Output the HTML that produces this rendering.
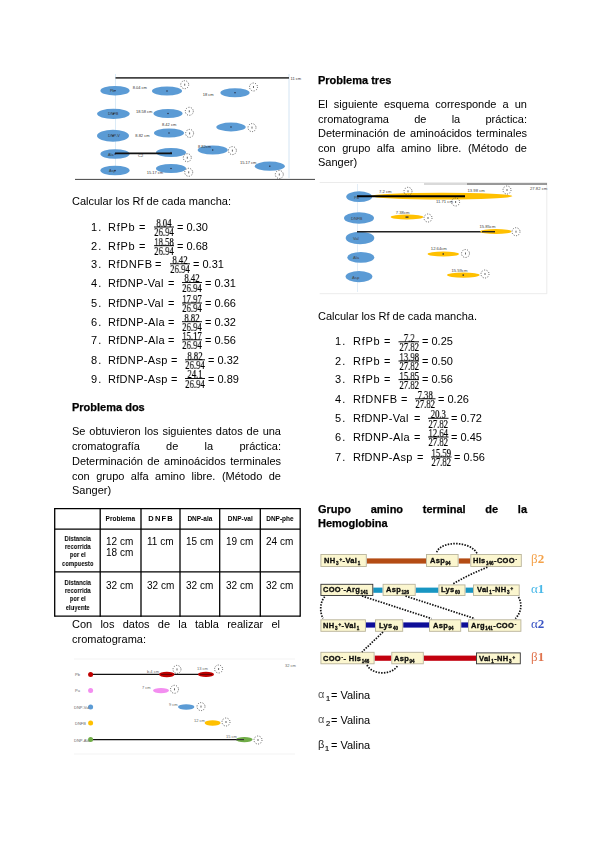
<!DOCTYPE html>
<html><head><meta charset="utf-8"><style>
html,body{margin:0;padding:0;background:#fff;}
body{width:600px;height:848px;position:relative;overflow:hidden;font-family:"Liberation Sans",sans-serif;color:#000;}
.t{position:absolute;white-space:nowrap;font-family:"Liberation Sans",sans-serif;will-change:transform;}
.j{text-align:justify;text-align-last:justify;white-space:normal;}
.fr{position:absolute;font-family:"Liberation Serif",serif;font-size:11.5px;line-height:11.5px;text-align:center;transform:scaleX(0.75);letter-spacing:0px;-webkit-text-stroke:0.2px #000;will-change:transform;}
.th{font-size:6.5px;line-height:8px;font-weight:bold;text-align:center;}
.rh{font-size:7.4px;line-height:8px;font-weight:bold;text-align:center;transform:scaleX(0.8);}
.hb{font-weight:bold;color:#111;letter-spacing:0.3px;-webkit-text-stroke:0.3px #000;}
.hb sub{font-size:4.5px;vertical-align:-1.5px;letter-spacing:0;margin:0 0.5px;}
.hb sup{font-size:4.5px;vertical-align:2.5px;letter-spacing:0;margin:0 0.5px;}
.gl{font-family:"Liberation Serif",serif;font-size:13px;line-height:13px;}
sub{font-size:7px;vertical-align:-2px;line-height:0;}
sup{font-size:7px;vertical-align:3px;line-height:0;}
svg{position:absolute;left:0;top:0;}
.gk{font-family:"Liberation Sans",sans-serif;font-size:11px;line-height:11px;color:#555;}
.sb{font-size:7.5px;line-height:7.5px;color:#111;-webkit-text-stroke:0.2px #111;}
</style></head><body>
<svg width="600" height="848" viewBox="0 0 600 848">
<line x1="154" y1="227.0" x2="174" y2="227.0" stroke="#111" stroke-width="1"/>
<line x1="154" y1="245.7" x2="174" y2="245.7" stroke="#111" stroke-width="1"/>
<line x1="170" y1="263.8" x2="190" y2="263.8" stroke="#111" stroke-width="1"/>
<line x1="182" y1="282.5" x2="202" y2="282.5" stroke="#111" stroke-width="1"/>
<line x1="182" y1="303.0" x2="202" y2="303.0" stroke="#111" stroke-width="1"/>
<line x1="182" y1="321.7" x2="202" y2="321.7" stroke="#111" stroke-width="1"/>
<line x1="182" y1="339.8" x2="202" y2="339.8" stroke="#111" stroke-width="1"/>
<line x1="185" y1="359.8" x2="205" y2="359.8" stroke="#111" stroke-width="1"/>
<line x1="185" y1="378.5" x2="205" y2="378.5" stroke="#111" stroke-width="1"/>
<line x1="54.7" y1="508.1" x2="54.7" y2="616.7" stroke="#000" stroke-width="1.3"/>
<line x1="100.2" y1="508.1" x2="100.2" y2="616.7" stroke="#000" stroke-width="1.3"/>
<line x1="141" y1="508.1" x2="141" y2="616.7" stroke="#000" stroke-width="1.3"/>
<line x1="180" y1="508.1" x2="180" y2="616.7" stroke="#000" stroke-width="1.3"/>
<line x1="219.7" y1="508.1" x2="219.7" y2="616.7" stroke="#000" stroke-width="1.3"/>
<line x1="260.3" y1="508.1" x2="260.3" y2="616.7" stroke="#000" stroke-width="1.3"/>
<line x1="300.2" y1="508.1" x2="300.2" y2="616.7" stroke="#000" stroke-width="1.3"/>
<line x1="54.7" y1="508.6" x2="300.2" y2="508.6" stroke="#000" stroke-width="1.3"/>
<line x1="54.7" y1="529.2" x2="300.2" y2="529.2" stroke="#000" stroke-width="1.3"/>
<line x1="54.7" y1="571.9" x2="300.2" y2="571.9" stroke="#000" stroke-width="1.3"/>
<line x1="54.7" y1="616.2" x2="300.2" y2="616.2" stroke="#000" stroke-width="1.3"/>
<line x1="398.5" y1="341.8" x2="419.0" y2="341.8" stroke="#111" stroke-width="1"/>
<line x1="398.5" y1="361.0" x2="419.0" y2="361.0" stroke="#111" stroke-width="1"/>
<line x1="398.5" y1="379.6" x2="419.0" y2="379.6" stroke="#111" stroke-width="1"/>
<line x1="415" y1="398.8" x2="435.5" y2="398.8" stroke="#111" stroke-width="1"/>
<line x1="428" y1="418.3" x2="448.5" y2="418.3" stroke="#111" stroke-width="1"/>
<line x1="428" y1="437.0" x2="448.5" y2="437.0" stroke="#111" stroke-width="1"/>
<line x1="431" y1="457.0" x2="451.5" y2="457.0" stroke="#111" stroke-width="1"/>
<line x1="115.5" y1="74" x2="115.5" y2="175" stroke="#d2e6f5" stroke-width="0.8"/>
<line x1="289" y1="74" x2="289" y2="178" stroke="#c8ddf0" stroke-width="0.8"/>
<line x1="115.5" y1="77.9" x2="289" y2="77.9" stroke="#444" stroke-width="1.7"/>
<line x1="75" y1="179.4" x2="315" y2="179.4" stroke="#444" stroke-width="1"/>
<ellipse cx="115" cy="90.7" rx="14.6" ry="4.8" fill="#5b9bd5" opacity="1"/>
<ellipse cx="113.4" cy="113.8" rx="16.3" ry="5.1" fill="#5b9bd5" opacity="1"/>
<ellipse cx="113" cy="135.7" rx="16" ry="6" fill="#5b9bd5" opacity="1"/>
<ellipse cx="115" cy="154" rx="14.6" ry="4.8" fill="#5b9bd5" opacity="1"/>
<ellipse cx="115" cy="170.5" rx="14.6" ry="4.8" fill="#5b9bd5" opacity="1"/>
<ellipse cx="167" cy="91" rx="15" ry="4.5" fill="#5b9bd5" opacity="1"/>
<ellipse cx="168" cy="113.5" rx="14.5" ry="4.5" fill="#5b9bd5" opacity="1"/>
<ellipse cx="169" cy="133" rx="15" ry="4.5" fill="#5b9bd5" opacity="1"/>
<ellipse cx="171" cy="152.5" rx="15" ry="4.5" fill="#5b9bd5" opacity="1"/>
<ellipse cx="171" cy="168.5" rx="15" ry="4.5" fill="#5b9bd5" opacity="1"/>
<ellipse cx="235" cy="92.7" rx="14.6" ry="4.5" fill="#5b9bd5" opacity="1"/>
<ellipse cx="231" cy="127" rx="14.7" ry="4.4" fill="#5b9bd5" opacity="1"/>
<ellipse cx="212.7" cy="150" rx="15" ry="4.5" fill="#5b9bd5" opacity="1"/>
<ellipse cx="269.8" cy="166.2" rx="15" ry="4.6" fill="#5b9bd5" opacity="1"/>
<circle cx="184.7" cy="84.7" r="4" fill="none" stroke="#333" stroke-width="0.8" stroke-dasharray="1 1.5"/>
<rect x="184.2" y="83.7" width="1" height="2" fill="#666"/>
<circle cx="189.3" cy="111.3" r="4" fill="none" stroke="#333" stroke-width="0.8" stroke-dasharray="1 1.5"/>
<rect x="188.8" y="110.3" width="1" height="2" fill="#666"/>
<circle cx="189.6" cy="133.4" r="4" fill="none" stroke="#333" stroke-width="0.8" stroke-dasharray="1 1.5"/>
<rect x="189.1" y="132.4" width="1" height="2" fill="#666"/>
<circle cx="187.3" cy="157.7" r="4" fill="none" stroke="#333" stroke-width="0.8" stroke-dasharray="1 1.5"/>
<rect x="186.8" y="156.7" width="1" height="2" fill="#666"/>
<circle cx="188.7" cy="172.3" r="4" fill="none" stroke="#333" stroke-width="0.8" stroke-dasharray="1 1.5"/>
<rect x="188.2" y="171.3" width="1" height="2" fill="#666"/>
<circle cx="253.5" cy="87" r="4" fill="none" stroke="#333" stroke-width="0.8" stroke-dasharray="1 1.5"/>
<rect x="253.0" y="86" width="1" height="2" fill="#666"/>
<circle cx="252" cy="127.6" r="4" fill="none" stroke="#333" stroke-width="0.8" stroke-dasharray="1 1.5"/>
<rect x="251.5" y="126.6" width="1" height="2" fill="#666"/>
<circle cx="232.4" cy="150.6" r="4" fill="none" stroke="#333" stroke-width="0.8" stroke-dasharray="1 1.5"/>
<rect x="231.9" y="149.6" width="1" height="2" fill="#666"/>
<circle cx="279.3" cy="174.5" r="4" fill="none" stroke="#333" stroke-width="0.8" stroke-dasharray="1 1.5"/>
<rect x="278.8" y="173.5" width="1" height="2" fill="#666"/>
<line x1="115" y1="153.3" x2="172" y2="153.3" stroke="#111" stroke-width="1.8"/>
<text x="132.7" y="89" font-family="Liberation Sans" font-size="4" font-weight="normal" fill="#333">8.04 cm</text>
<text x="136" y="112.5" font-family="Liberation Sans" font-size="4" font-weight="normal" fill="#333">18.58 cm</text>
<text x="162" y="125.5" font-family="Liberation Sans" font-size="4" font-weight="normal" fill="#333">8.42 cm</text>
<text x="135.3" y="137" font-family="Liberation Sans" font-size="4" font-weight="normal" fill="#333">8.82 cm</text>
<text x="138" y="157" font-family="Liberation Sans" font-size="4" font-weight="normal" fill="#333">C2</text>
<text x="146.7" y="174" font-family="Liberation Sans" font-size="4" font-weight="normal" fill="#333">15.17 cm</text>
<text x="290.5" y="80" font-family="Liberation Sans" font-size="4" font-weight="normal" fill="#333">11 cm</text>
<text x="202.7" y="96" font-family="Liberation Sans" font-size="4" font-weight="normal" fill="#333">18 cm</text>
<text x="198" y="148" font-family="Liberation Sans" font-size="4" font-weight="normal" fill="#333">8.82cm</text>
<text x="240" y="164" font-family="Liberation Sans" font-size="4" font-weight="normal" fill="#333">15.17 cm</text>
<text x="110" y="92" font-family="Liberation Sans" font-size="3.8" font-weight="normal" fill="#333">Pb</text>
<text x="108" y="115" font-family="Liberation Sans" font-size="3.8" font-weight="normal" fill="#333">DNFB</text>
<text x="108" y="137" font-family="Liberation Sans" font-size="3.8" font-weight="normal" fill="#333">DNP-V</text>
<text x="108" y="155.5" font-family="Liberation Sans" font-size="3.8" font-weight="normal" fill="#333">Ala</text>
<text x="109" y="172" font-family="Liberation Sans" font-size="3.8" font-weight="normal" fill="#333">Asp</text>
<rect x="114.4" y="90.10000000000001" width="1.2" height="1.2" fill="#223"/>
<rect x="112.80000000000001" y="113.2" width="1.2" height="1.2" fill="#223"/>
<rect x="112.4" y="135.1" width="1.2" height="1.2" fill="#223"/>
<rect x="114.4" y="153.4" width="1.2" height="1.2" fill="#223"/>
<rect x="114.4" y="169.9" width="1.2" height="1.2" fill="#223"/>
<rect x="166.4" y="90.4" width="1.2" height="1.2" fill="#223"/>
<rect x="167.4" y="112.9" width="1.2" height="1.2" fill="#223"/>
<rect x="168.4" y="132.4" width="1.2" height="1.2" fill="#223"/>
<rect x="170.4" y="151.9" width="1.2" height="1.2" fill="#223"/>
<rect x="170.4" y="167.9" width="1.2" height="1.2" fill="#223"/>
<rect x="234.4" y="92.10000000000001" width="1.2" height="1.2" fill="#223"/>
<rect x="230.4" y="126.4" width="1.2" height="1.2" fill="#223"/>
<rect x="212.1" y="149.4" width="1.2" height="1.2" fill="#223"/>
<rect x="269.2" y="165.6" width="1.2" height="1.2" fill="#223"/>
<path d="M319.7 182.5 H546.8 V293.7 H319.7" fill="none" stroke="#e6e6e6" stroke-width="0.8"/>
<line x1="357.5" y1="184" x2="357.5" y2="292" stroke="#dbe8f5" stroke-width="0.8"/>
<line x1="424" y1="184" x2="467" y2="184" stroke="#aaa" stroke-width="0.9"/>
<line x1="467" y1="184" x2="547" y2="184" stroke="#333" stroke-width="1"/>
<ellipse cx="359.2" cy="196.7" rx="13" ry="5.4" fill="#5b9bd5" opacity="1"/>
<ellipse cx="359" cy="218" rx="15" ry="5.7" fill="#5b9bd5" opacity="1"/>
<ellipse cx="360" cy="238" rx="14.3" ry="6.2" fill="#5b9bd5" opacity="1"/>
<ellipse cx="360.8" cy="257.4" rx="13.5" ry="5.4" fill="#5b9bd5" opacity="1"/>
<ellipse cx="359" cy="276.6" rx="13.4" ry="5.6" fill="#5b9bd5" opacity="1"/>
<ellipse cx="442" cy="196.1" rx="70.5" ry="3.4" fill="#ffc000" opacity="1"/>
<line x1="357" y1="196.3" x2="465" y2="196.3" stroke="#000" stroke-width="1.9"/>
<ellipse cx="407" cy="217.1" rx="16.3" ry="2.5" fill="#ffc000" opacity="1"/>
<rect x="405.5" y="216.4" width="3" height="1.4" fill="#333"/>
<line x1="357" y1="231.7" x2="495" y2="231.7" stroke="#222" stroke-width="1.4"/>
<ellipse cx="495.9" cy="231.5" rx="15.6" ry="2.6" fill="#ffc000" opacity="1"/>
<line x1="482" y1="231.7" x2="495" y2="231.7" stroke="#222" stroke-width="1.4"/>
<ellipse cx="443.3" cy="254" rx="15.7" ry="2.6" fill="#ffc000" opacity="1"/>
<ellipse cx="463.3" cy="275.1" rx="16.3" ry="2.6" fill="#ffc000" opacity="1"/>
<rect x="442.5" y="253.3" width="1.5" height="1.4" fill="#333"/>
<rect x="462.5" y="274.4" width="1.5" height="1.4" fill="#333"/>
<circle cx="507" cy="190" r="4" fill="none" stroke="#333" stroke-width="0.8" stroke-dasharray="1 1.5"/>
<rect x="506.5" y="189" width="1" height="2" fill="#666"/>
<circle cx="455.6" cy="202" r="4" fill="none" stroke="#333" stroke-width="0.8" stroke-dasharray="1 1.5"/>
<rect x="455.1" y="201" width="1" height="2" fill="#666"/>
<circle cx="428" cy="218" r="4" fill="none" stroke="#333" stroke-width="0.8" stroke-dasharray="1 1.5"/>
<rect x="427.5" y="217" width="1" height="2" fill="#666"/>
<circle cx="516" cy="231.7" r="4" fill="none" stroke="#333" stroke-width="0.8" stroke-dasharray="1 1.5"/>
<rect x="515.5" y="230.7" width="1" height="2" fill="#666"/>
<circle cx="465.5" cy="253.5" r="4" fill="none" stroke="#333" stroke-width="0.8" stroke-dasharray="1 1.5"/>
<rect x="465.0" y="252.5" width="1" height="2" fill="#666"/>
<circle cx="485" cy="274" r="4" fill="none" stroke="#333" stroke-width="0.8" stroke-dasharray="1 1.5"/>
<rect x="484.5" y="273" width="1" height="2" fill="#666"/>
<circle cx="408" cy="191.3" r="4" fill="none" stroke="#333" stroke-width="0.8" stroke-dasharray="1 1.5"/>
<rect x="407.5" y="190.3" width="1" height="2" fill="#666"/>
<text x="379" y="192.5" font-family="Liberation Sans" font-size="4.2" font-weight="normal" fill="#444">7.2 cm</text>
<text x="467.5" y="191.5" font-family="Liberation Sans" font-size="4.2" font-weight="normal" fill="#444">13.98 cm</text>
<text x="436" y="202.5" font-family="Liberation Sans" font-size="4.2" font-weight="normal" fill="#444">11.71 cm</text>
<text x="530" y="189.5" font-family="Liberation Sans" font-size="4.2" font-weight="normal" fill="#444">27.82 cm</text>
<text x="395.8" y="213.5" font-family="Liberation Sans" font-size="4.2" font-weight="normal" fill="#444">7.38cm</text>
<text x="479.4" y="227.5" font-family="Liberation Sans" font-size="4.2" font-weight="normal" fill="#444">15.85cm</text>
<text x="430.8" y="249.5" font-family="Liberation Sans" font-size="4.2" font-weight="normal" fill="#444">12.64cm</text>
<text x="451.4" y="271.5" font-family="Liberation Sans" font-size="4.2" font-weight="normal" fill="#444">15.59cm</text>
<text x="354" y="198.5" font-family="Liberation Sans" font-size="4.2" font-weight="normal" fill="#444">Pb</text>
<text x="351" y="219.5" font-family="Liberation Sans" font-size="4.2" font-weight="normal" fill="#444">DNFB</text>
<text x="353" y="239.5" font-family="Liberation Sans" font-size="4.2" font-weight="normal" fill="#444">Val</text>
<text x="353" y="259" font-family="Liberation Sans" font-size="4.2" font-weight="normal" fill="#444">Ala</text>
<text x="352" y="278.5" font-family="Liberation Sans" font-size="4.2" font-weight="normal" fill="#444">Asp</text>
<line x1="74" y1="659" x2="295" y2="659" stroke="#f0f0f0" stroke-width="0.8"/>
<line x1="74" y1="754" x2="295" y2="754" stroke="#f0f0f0" stroke-width="0.8"/>
<line x1="90.4" y1="674.4" x2="206" y2="674.4" stroke="#111" stroke-width="1.3"/>
<line x1="90.8" y1="739.6" x2="244" y2="739.6" stroke="#111" stroke-width="1.3"/>
<circle cx="90.6" cy="674.4" r="2.5" fill="#c00000"/>
<circle cx="90.6" cy="690.6" r="2.5" fill="#f38ef0"/>
<circle cx="90.6" cy="707" r="2.5" fill="#5b9bd5"/>
<circle cx="90.6" cy="723" r="2.5" fill="#ffc000"/>
<circle cx="90.6" cy="739.6" r="2.5" fill="#70ad47"/>
<ellipse cx="166.8" cy="674.5" rx="7.8" ry="2.7" fill="#c00000" opacity="1"/>
<ellipse cx="206" cy="674.4" rx="8" ry="2.7" fill="#c00000" opacity="1"/>
<ellipse cx="161" cy="690.6" rx="8" ry="2.7" fill="#f38ef0" opacity="1"/>
<ellipse cx="186.2" cy="707" rx="8.2" ry="2.7" fill="#5b9bd5" opacity="1"/>
<ellipse cx="212.6" cy="723" rx="8" ry="2.7" fill="#ffc000" opacity="1"/>
<ellipse cx="244.3" cy="739.6" rx="8.3" ry="2.7" fill="#70ad47" opacity="1"/>
<line x1="161" y1="674.4" x2="172" y2="674.4" stroke="#600" stroke-width="1"/>
<line x1="200" y1="674.4" x2="212" y2="674.4" stroke="#600" stroke-width="1"/>
<line x1="236" y1="739.6" x2="244" y2="739.6" stroke="#333" stroke-width="1.2"/>
<circle cx="177" cy="669.4" r="4" fill="none" stroke="#333" stroke-width="0.8" stroke-dasharray="1 1.5"/>
<rect x="176.5" y="668.4" width="1" height="2" fill="#666"/>
<circle cx="218.6" cy="669" r="4" fill="none" stroke="#333" stroke-width="0.8" stroke-dasharray="1 1.5"/>
<rect x="218.1" y="668" width="1" height="2" fill="#666"/>
<circle cx="174.5" cy="689.3" r="4" fill="none" stroke="#333" stroke-width="0.8" stroke-dasharray="1 1.5"/>
<rect x="174.0" y="688.3" width="1" height="2" fill="#666"/>
<circle cx="201" cy="706.6" r="4" fill="none" stroke="#333" stroke-width="0.8" stroke-dasharray="1 1.5"/>
<rect x="200.5" y="705.6" width="1" height="2" fill="#666"/>
<circle cx="226" cy="722" r="4" fill="none" stroke="#333" stroke-width="0.8" stroke-dasharray="1 1.5"/>
<rect x="225.5" y="721" width="1" height="2" fill="#666"/>
<circle cx="258" cy="740" r="4" fill="none" stroke="#333" stroke-width="0.8" stroke-dasharray="1 1.5"/>
<rect x="257.5" y="739" width="1" height="2" fill="#666"/>
<text x="147" y="673" font-family="Liberation Sans" font-size="4" font-weight="normal" fill="#666">b.4 cm</text>
<text x="197" y="670" font-family="Liberation Sans" font-size="4" font-weight="normal" fill="#666">13 cm</text>
<text x="142" y="689" font-family="Liberation Sans" font-size="4" font-weight="normal" fill="#666">7 cm</text>
<text x="169" y="705.5" font-family="Liberation Sans" font-size="4" font-weight="normal" fill="#666">9 cm</text>
<text x="194" y="722" font-family="Liberation Sans" font-size="4" font-weight="normal" fill="#666">12 cm</text>
<text x="226" y="738" font-family="Liberation Sans" font-size="4" font-weight="normal" fill="#666">15 cm</text>
<text x="285" y="667" font-family="Liberation Sans" font-size="4" font-weight="normal" fill="#666">32 cm</text>
<text x="75" y="676" font-family="Liberation Sans" font-size="4" font-weight="normal" fill="#666">Pb</text>
<text x="75" y="692" font-family="Liberation Sans" font-size="4" font-weight="normal" fill="#666">Pu</text>
<text x="74" y="709" font-family="Liberation Sans" font-size="4" font-weight="normal" fill="#666">DNP-Val</text>
<text x="75" y="725" font-family="Liberation Sans" font-size="4" font-weight="normal" fill="#666">DNFB</text>
<text x="74" y="741.5" font-family="Liberation Sans" font-size="4" font-weight="normal" fill="#666">DNP-Ala</text>
<rect x="366.8" y="558.4" width="59.19999999999999" height="5.2" fill="#b44c14"/>
<rect x="458.6" y="558.4" width="11.699999999999989" height="5.2" fill="#b44c14"/>
<rect x="320.9" y="554.5" width="45.400000000000034" height="12" fill="#fbf6cf" stroke="#b8b39a" stroke-width="0.9"/>
<rect x="426.5" y="554.5" width="31.600000000000023" height="12" fill="#fbf6cf" stroke="#b8b39a" stroke-width="0.9"/>
<rect x="470.8" y="554.5" width="50.49999999999994" height="12" fill="#fbf6cf" stroke="#b8b39a" stroke-width="0.9"/>
<rect x="373.3" y="587.6" width="9.300000000000011" height="5.2" fill="#1896c2"/>
<rect x="415.7" y="587.6" width="22.69999999999999" height="5.2" fill="#1896c2"/>
<rect x="465.5" y="587.6" width="7.5" height="5.2" fill="#1896c2"/>
<rect x="320.9" y="584.3" width="51.900000000000034" height="11.200000000000045" fill="#fbf6cf" stroke="#333" stroke-width="0.9"/>
<rect x="383.1" y="584.3" width="32.099999999999966" height="11.200000000000045" fill="#fbf6cf" stroke="#b8b39a" stroke-width="0.9"/>
<rect x="438.9" y="584.9" width="26.100000000000023" height="10.600000000000023" fill="#fbf6cf" stroke="#b8b39a" stroke-width="0.9"/>
<rect x="473.5" y="584.9" width="45.700000000000045" height="10.600000000000023" fill="#fbf6cf" stroke="#b8b39a" stroke-width="0.9"/>
<rect x="365.9" y="622.4" width="9.100000000000023" height="5.2" fill="#0e0e98"/>
<rect x="403.2" y="622.4" width="25.80000000000001" height="5.2" fill="#0e0e98"/>
<rect x="461.2" y="622.4" width="6.800000000000011" height="5.2" fill="#0e0e98"/>
<rect x="320.9" y="619.8" width="44.5" height="11.5" fill="#fbf6cf" stroke="#b8b39a" stroke-width="0.9"/>
<rect x="375.5" y="619.8" width="27.19999999999999" height="11.5" fill="#fbf6cf" stroke="#b8b39a" stroke-width="0.9"/>
<rect x="429.5" y="619.8" width="31.19999999999999" height="11.5" fill="#fbf6cf" stroke="#b8b39a" stroke-width="0.9"/>
<rect x="468.5" y="619.8" width="52.39999999999998" height="11.5" fill="#fbf6cf" stroke="#b8b39a" stroke-width="0.9"/>
<rect x="374.6" y="655.6" width="16.69999999999999" height="5.2" fill="#c2000e"/>
<rect x="423.8" y="655.6" width="52.19999999999999" height="5.2" fill="#c2000e"/>
<rect x="320.9" y="652.3" width="53.200000000000045" height="11.5" fill="#fbf6cf" stroke="#b8b39a" stroke-width="0.9"/>
<rect x="391.8" y="652.3" width="31.5" height="11.5" fill="#fbf6cf" stroke="#b8b39a" stroke-width="0.9"/>
<rect x="476.5" y="652.9" width="43.799999999999955" height="10.899999999999977" fill="#fbf6cf" stroke="#333" stroke-width="0.9"/>
<path d="M436.7 552.3 C 441 540.5, 471 540.5, 477.3 554" fill="none" stroke="#111" stroke-width="1.7" stroke-dasharray="1.5 1.3"/>
<path d="M453.3 583.7 Q 470 574, 488 567" fill="none" stroke="#111" stroke-width="1.7" stroke-dasharray="1.5 1.3"/>
<path d="M362 596 L 431.5 618.6" fill="none" stroke="#111" stroke-width="1.7" stroke-dasharray="1.5 1.3"/>
<path d="M405.5 596 L 474.8 618.6" fill="none" stroke="#111" stroke-width="1.7" stroke-dasharray="1.5 1.3"/>
<path d="M324.7 596.7 C 320 602, 319.5 612, 323 618.3" fill="none" stroke="#111" stroke-width="1.7" stroke-dasharray="1.5 1.3"/>
<path d="M518.5 597 C 522 603, 522 612, 515.3 618.6" fill="none" stroke="#111" stroke-width="1.7" stroke-dasharray="1.5 1.3"/>
<path d="M383 632 L 362 652" fill="none" stroke="#111" stroke-width="1.7" stroke-dasharray="1.5 1.3"/>
<path d="M367 665 C 372 675, 392 676, 398 665" fill="none" stroke="#111" stroke-width="1.7" stroke-dasharray="1.5 1.3"/>
</svg>
<div class="t" style="left:72px;top:196px;font-size:11px;line-height:11px;">Calcular los Rf de cada mancha:</div>
<div class="t" style="left:91px;top:222px;font-size:11px;line-height:11px;letter-spacing:1.2px;">1.</div>
<div class="t" style="left:108px;top:222px;font-size:11px;line-height:11px;letter-spacing:0.72px;">RfPb</div>
<div class="t" style="left:138.6px;top:222px;font-size:11px;line-height:11px;">=</div>
<div class="fr" style="left:151px;top:217.9px;width:26px;">8.04</div>
<div class="fr" style="left:151px;top:227.2px;width:26px;">26.94</div>
<div class="t" style="left:177px;top:222px;font-size:11px;line-height:11px;">= 0.30</div>
<div class="t" style="left:91px;top:241px;font-size:11px;line-height:11px;letter-spacing:1.2px;">2.</div>
<div class="t" style="left:108px;top:241px;font-size:11px;line-height:11px;letter-spacing:0.72px;">RfPb</div>
<div class="t" style="left:138.6px;top:241px;font-size:11px;line-height:11px;">=</div>
<div class="fr" style="left:151px;top:236.6px;width:26px;">18.58</div>
<div class="fr" style="left:151px;top:245.9px;width:26px;">26.94</div>
<div class="t" style="left:177px;top:241px;font-size:11px;line-height:11px;">= 0.68</div>
<div class="t" style="left:91px;top:259px;font-size:11px;line-height:11px;letter-spacing:1.2px;">3.</div>
<div class="t" style="left:108px;top:259px;font-size:11px;line-height:11px;letter-spacing:0.61px;">RfDNFB</div>
<div class="t" style="left:155.1px;top:259px;font-size:11px;line-height:11px;">=</div>
<div class="fr" style="left:167px;top:254.7px;width:26px;">8.42</div>
<div class="fr" style="left:167px;top:264.0px;width:26px;">26.94</div>
<div class="t" style="left:193px;top:259px;font-size:11px;line-height:11px;">= 0.31</div>
<div class="t" style="left:91px;top:278px;font-size:11px;line-height:11px;letter-spacing:1.2px;">4.</div>
<div class="t" style="left:108px;top:278px;font-size:11px;line-height:11px;letter-spacing:0.3px;">RfDNP-Val</div>
<div class="t" style="left:168.3px;top:278px;font-size:11px;line-height:11px;">=</div>
<div class="fr" style="left:179px;top:273.4px;width:26px;">8.42</div>
<div class="fr" style="left:179px;top:282.7px;width:26px;">26.94</div>
<div class="t" style="left:205px;top:278px;font-size:11px;line-height:11px;">= 0.31</div>
<div class="t" style="left:91px;top:298px;font-size:11px;line-height:11px;letter-spacing:1.2px;">5.</div>
<div class="t" style="left:108px;top:298px;font-size:11px;line-height:11px;letter-spacing:0.3px;">RfDNP-Val</div>
<div class="t" style="left:168.3px;top:298px;font-size:11px;line-height:11px;">=</div>
<div class="fr" style="left:179px;top:293.9px;width:26px;">17.97</div>
<div class="fr" style="left:179px;top:303.2px;width:26px;">26.94</div>
<div class="t" style="left:205px;top:298px;font-size:11px;line-height:11px;">= 0.66</div>
<div class="t" style="left:91px;top:317px;font-size:11px;line-height:11px;letter-spacing:1.2px;">6.</div>
<div class="t" style="left:108px;top:317px;font-size:11px;line-height:11px;letter-spacing:0.36px;">RfDNP-Ala</div>
<div class="t" style="left:168.3px;top:317px;font-size:11px;line-height:11px;">=</div>
<div class="fr" style="left:179px;top:312.6px;width:26px;">8.82</div>
<div class="fr" style="left:179px;top:321.9px;width:26px;">26.94</div>
<div class="t" style="left:205px;top:317px;font-size:11px;line-height:11px;">= 0.32</div>
<div class="t" style="left:91px;top:335px;font-size:11px;line-height:11px;letter-spacing:1.2px;">7.</div>
<div class="t" style="left:108px;top:335px;font-size:11px;line-height:11px;letter-spacing:0.36px;">RfDNP-Ala</div>
<div class="t" style="left:168.3px;top:335px;font-size:11px;line-height:11px;">=</div>
<div class="fr" style="left:179px;top:330.7px;width:26px;">15.17</div>
<div class="fr" style="left:179px;top:340.0px;width:26px;">26.94</div>
<div class="t" style="left:205px;top:335px;font-size:11px;line-height:11px;">= 0.56</div>
<div class="t" style="left:91px;top:355px;font-size:11px;line-height:11px;letter-spacing:1.2px;">8.</div>
<div class="t" style="left:108px;top:355px;font-size:11px;line-height:11px;letter-spacing:0.31px;">RfDNP-Asp</div>
<div class="t" style="left:171.20000000000002px;top:355px;font-size:11px;line-height:11px;">=</div>
<div class="fr" style="left:182px;top:350.7px;width:26px;">8.82</div>
<div class="fr" style="left:182px;top:360.0px;width:26px;">26.94</div>
<div class="t" style="left:208px;top:355px;font-size:11px;line-height:11px;">= 0.32</div>
<div class="t" style="left:91px;top:374px;font-size:11px;line-height:11px;letter-spacing:1.2px;">9.</div>
<div class="t" style="left:108px;top:374px;font-size:11px;line-height:11px;letter-spacing:0.31px;">RfDNP-Asp</div>
<div class="t" style="left:171.20000000000002px;top:374px;font-size:11px;line-height:11px;">=</div>
<div class="fr" style="left:182px;top:369.4px;width:26px;">24.1</div>
<div class="fr" style="left:182px;top:378.7px;width:26px;">26.94</div>
<div class="t" style="left:208px;top:374px;font-size:11px;line-height:11px;">= 0.89</div>
<div class="t" style="left:72px;top:402px;font-size:11px;line-height:11px;font-weight:bold;-webkit-text-stroke:0.25px #000;">Problema dos</div>
<div class="t j" style="left:72px;top:426px;width:209px;font-size:11px;line-height:11px;">Se obtuvieron los siguientes datos de una</div>
<div class="t j" style="left:72px;top:441px;width:209px;font-size:11px;line-height:11px;">cromatografía de la práctica:</div>
<div class="t j" style="left:72px;top:456px;width:209px;font-size:11px;line-height:11px;">Determinación de aminoácidos terminales</div>
<div class="t j" style="left:72px;top:471px;width:209px;font-size:11px;line-height:11px;">con grupo alfa amino libre. (Método de</div>
<div class="t" style="left:72px;top:485px;font-size:11px;line-height:11px;">Sanger)</div>
<div class="t th" style="left:100.2px;width:40.8px;top:515px;">Problema</div>
<div class="t th" style="left:141px;width:39px;top:515px;font-size:7.5px;letter-spacing:1.2px;text-indent:1.2px;">DNFB</div>
<div class="t th" style="left:180px;width:39.69999999999999px;top:515px;">DNP-ala</div>
<div class="t th" style="left:219.7px;width:40.60000000000002px;top:515px;">DNP-val</div>
<div class="t th" style="left:260.3px;width:39.89999999999998px;top:515px;">DNP-phe</div>
<div class="t rh" style="left:54.7px;width:45.5px;top:535.0px;">Distancia</div>
<div class="t rh" style="left:54.7px;width:45.5px;top:543.2px;">recorrida</div>
<div class="t rh" style="left:54.7px;width:45.5px;top:551.4px;">por el</div>
<div class="t rh" style="left:54.7px;width:45.5px;top:559.6px;">compuesto</div>
<div class="t rh" style="left:54.7px;width:45.5px;top:579.0px;">Distancia</div>
<div class="t rh" style="left:54.7px;width:45.5px;top:587.2px;">recorrida</div>
<div class="t rh" style="left:54.7px;width:45.5px;top:595.4px;">por el</div>
<div class="t rh" style="left:54.7px;width:45.5px;top:603.6px;">eluyente</div>
<div class="t" style="left:106.2px;top:537px;font-size:10px;line-height:10px;">12 cm</div>
<div class="t" style="left:147px;top:537px;font-size:10px;line-height:10px;">11 cm</div>
<div class="t" style="left:186px;top:537px;font-size:10px;line-height:10px;">15 cm</div>
<div class="t" style="left:225.7px;top:537px;font-size:10px;line-height:10px;">19 cm</div>
<div class="t" style="left:266.3px;top:537px;font-size:10px;line-height:10px;">24 cm</div>
<div class="t" style="left:106.2px;top:548px;font-size:10px;line-height:10px;">18 cm</div>
<div class="t" style="left:106.2px;top:581px;font-size:10px;line-height:10px;">32 cm</div>
<div class="t" style="left:147px;top:581px;font-size:10px;line-height:10px;">32 cm</div>
<div class="t" style="left:186px;top:581px;font-size:10px;line-height:10px;">32 cm</div>
<div class="t" style="left:225.7px;top:581px;font-size:10px;line-height:10px;">32 cm</div>
<div class="t" style="left:266.3px;top:581px;font-size:10px;line-height:10px;">32 cm</div>
<div class="t j" style="left:72px;top:619px;width:208px;font-size:11px;line-height:11px;">Con los datos de la tabla realizar el</div>
<div class="t" style="left:72px;top:634px;font-size:11px;line-height:11px;">cromatograma:</div>
<div class="t" style="left:318px;top:75px;font-size:11px;line-height:11px;font-weight:bold;-webkit-text-stroke:0.25px #000;">Problema tres</div>
<div class="t j" style="left:318px;top:99px;width:209px;font-size:11px;line-height:11px;">El siguiente esquema corresponde a un</div>
<div class="t j" style="left:318px;top:114px;width:209px;font-size:11px;line-height:11px;">cromatograma de la práctica:</div>
<div class="t j" style="left:318px;top:128px;width:209px;font-size:11px;line-height:11px;">Determinación de aminoácidos terminales</div>
<div class="t j" style="left:318px;top:143px;width:209px;font-size:11px;line-height:11px;">con grupo alfa amino libre. (Método de</div>
<div class="t" style="left:318px;top:157px;font-size:11px;line-height:11px;">Sanger)</div>
<div class="t" style="left:318px;top:311px;font-size:11px;line-height:11px;">Calcular los Rf de cada mancha.</div>
<div class="t" style="left:335px;top:336px;font-size:11px;line-height:11px;letter-spacing:1.2px;">1.</div>
<div class="t" style="left:353px;top:336px;font-size:11px;line-height:11px;letter-spacing:0.72px;">RfPb</div>
<div class="t" style="left:384.4px;top:336px;font-size:11px;line-height:11px;">=</div>
<div class="fr" style="left:395.5px;top:332.7px;width:26.5px;">7.2</div>
<div class="fr" style="left:395.5px;top:342.0px;width:26.5px;">27.82</div>
<div class="t" style="left:421.5px;top:336px;font-size:11px;line-height:11px;">= 0.25</div>
<div class="t" style="left:335px;top:356px;font-size:11px;line-height:11px;letter-spacing:1.2px;">2.</div>
<div class="t" style="left:353px;top:356px;font-size:11px;line-height:11px;letter-spacing:0.72px;">RfPb</div>
<div class="t" style="left:384.4px;top:356px;font-size:11px;line-height:11px;">=</div>
<div class="fr" style="left:395.5px;top:351.9px;width:26.5px;">13.98</div>
<div class="fr" style="left:395.5px;top:361.2px;width:26.5px;">27.82</div>
<div class="t" style="left:421.5px;top:356px;font-size:11px;line-height:11px;">= 0.50</div>
<div class="t" style="left:335px;top:374px;font-size:11px;line-height:11px;letter-spacing:1.2px;">3.</div>
<div class="t" style="left:353px;top:374px;font-size:11px;line-height:11px;letter-spacing:0.72px;">RfPb</div>
<div class="t" style="left:384.4px;top:374px;font-size:11px;line-height:11px;">=</div>
<div class="fr" style="left:395.5px;top:370.5px;width:26.5px;">15.85</div>
<div class="fr" style="left:395.5px;top:379.8px;width:26.5px;">27.82</div>
<div class="t" style="left:421.5px;top:374px;font-size:11px;line-height:11px;">= 0.56</div>
<div class="t" style="left:335px;top:394px;font-size:11px;line-height:11px;letter-spacing:1.2px;">4.</div>
<div class="t" style="left:353px;top:394px;font-size:11px;line-height:11px;letter-spacing:0.61px;">RfDNFB</div>
<div class="t" style="left:401.09999999999997px;top:394px;font-size:11px;line-height:11px;">=</div>
<div class="fr" style="left:412px;top:389.7px;width:26.5px;">7.38</div>
<div class="fr" style="left:412px;top:399.0px;width:26.5px;">27.82</div>
<div class="t" style="left:438.0px;top:394px;font-size:11px;line-height:11px;">= 0.26</div>
<div class="t" style="left:335px;top:413px;font-size:11px;line-height:11px;letter-spacing:1.2px;">5.</div>
<div class="t" style="left:353px;top:413px;font-size:11px;line-height:11px;letter-spacing:0.3px;">RfDNP-Val</div>
<div class="t" style="left:414.09999999999997px;top:413px;font-size:11px;line-height:11px;">=</div>
<div class="fr" style="left:425px;top:409.2px;width:26.5px;">20.3</div>
<div class="fr" style="left:425px;top:418.5px;width:26.5px;">27.82</div>
<div class="t" style="left:451.0px;top:413px;font-size:11px;line-height:11px;">= 0.72</div>
<div class="t" style="left:335px;top:432px;font-size:11px;line-height:11px;letter-spacing:1.2px;">6.</div>
<div class="t" style="left:353px;top:432px;font-size:11px;line-height:11px;letter-spacing:0.36px;">RfDNP-Ala</div>
<div class="t" style="left:414.09999999999997px;top:432px;font-size:11px;line-height:11px;">=</div>
<div class="fr" style="left:425px;top:427.9px;width:26.5px;">12.64</div>
<div class="fr" style="left:425px;top:437.2px;width:26.5px;">27.82</div>
<div class="t" style="left:451.0px;top:432px;font-size:11px;line-height:11px;">= 0.45</div>
<div class="t" style="left:335px;top:452px;font-size:11px;line-height:11px;letter-spacing:1.2px;">7.</div>
<div class="t" style="left:353px;top:452px;font-size:11px;line-height:11px;letter-spacing:0.31px;">RfDNP-Asp</div>
<div class="t" style="left:417.15px;top:452px;font-size:11px;line-height:11px;">=</div>
<div class="fr" style="left:428px;top:447.9px;width:26.5px;">15.59</div>
<div class="fr" style="left:428px;top:457.2px;width:26.5px;">27.82</div>
<div class="t" style="left:454.0px;top:452px;font-size:11px;line-height:11px;">= 0.56</div>
<div class="t j" style="left:318px;top:504px;width:209px;font-size:11px;line-height:11px;font-weight:bold;-webkit-text-stroke:0.25px #000;">Grupo amino terminal de la</div>
<div class="t" style="left:318px;top:518px;font-size:11px;line-height:11px;font-weight:bold;-webkit-text-stroke:0.25px #000;">Hemoglobina</div>
<div class="t gk" style="left:318px;top:689px;">α</div>
<div class="t sb" style="left:326.3px;top:694.7px;">1</div>
<div class="t" style="left:331px;top:690px;font-size:11px;line-height:11px;">= Valina</div>
<div class="t gk" style="left:318px;top:714px;">α</div>
<div class="t sb" style="left:326.3px;top:719.7px;">2</div>
<div class="t" style="left:331px;top:715px;font-size:11px;line-height:11px;">= Valina</div>
<div class="t gk" style="left:318px;top:738.5px;color:#222;">β</div>
<div class="t sb" style="left:325.3px;top:744.7px;">1</div>
<div class="t" style="left:331px;top:740px;font-size:11px;line-height:11px;">= Valina</div>
<div class="t hb" style="left:324px;top:557.0px;font-size:7.5px;line-height:7.5px;">NH<sub>3</sub><sup>+</sup>-Val<sub>1</sub></div>
<div class="t hb" style="left:429.5px;top:557.0px;font-size:7.5px;line-height:7.5px;">Asp<sub>94</sub></div>
<div class="t hb" style="left:473px;top:557.0px;font-size:7.5px;line-height:7.5px;">His<sub>146</sub>-COO<sup>-</sup></div>
<div class="t hb" style="left:323px;top:586.0px;font-size:7.5px;line-height:7.5px;">COO<sup>-</sup>-Arg<sub>141</sub></div>
<div class="t hb" style="left:386px;top:586.0px;font-size:7.5px;line-height:7.5px;">Asp<sub>126</sub></div>
<div class="t hb" style="left:441px;top:586.0px;font-size:7.5px;line-height:7.5px;">Lys<sub>60</sub></div>
<div class="t hb" style="left:477px;top:586.0px;font-size:7.5px;line-height:7.5px;">Val<sub>1</sub>-NH<sub>3</sub><sup>+</sup></div>
<div class="t hb" style="left:323px;top:622.0px;font-size:7.5px;line-height:7.5px;">NH<sub>3</sub><sup>+</sup>-Val<sub>1</sub></div>
<div class="t hb" style="left:379px;top:622.0px;font-size:7.5px;line-height:7.5px;">Lys<sub>40</sub></div>
<div class="t hb" style="left:433px;top:622.0px;font-size:7.5px;line-height:7.5px;">Asp<sub>94</sub></div>
<div class="t hb" style="left:471px;top:622.0px;font-size:7.5px;line-height:7.5px;">Arg<sub>141</sub>-COO<sup>-</sup></div>
<div class="t hb" style="left:323px;top:654.5px;font-size:7.5px;line-height:7.5px;">COO<sup>-</sup>- His<sub>146</sub></div>
<div class="t hb" style="left:394px;top:654.5px;font-size:7.5px;line-height:7.5px;">Asp<sub>94</sub></div>
<div class="t hb" style="left:479px;top:654.5px;font-size:7.5px;line-height:7.5px;">Val<sub>1</sub>-NH<sub>3</sub><sup>+</sup></div>
<div class="t gl" style="left:530.5px;top:552px;color:#f4a24a;">β<b>2</b></div>
<div class="t gl" style="left:530.5px;top:582px;color:#49b8e8;">α<b>1</b></div>
<div class="t gl" style="left:530.5px;top:617px;color:#3a54c4;">α<b>2</b></div>
<div class="t gl" style="left:530.5px;top:650px;color:#e0744e;">β<b>1</b></div>
</body></html>
